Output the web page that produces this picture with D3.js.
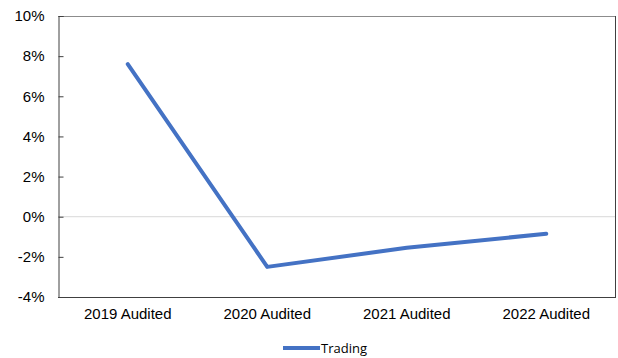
<!DOCTYPE html>
<html>
<head>
<meta charset="utf-8">
<script src="https://cdn.jsdelivr.net/npm/d3@7"></script>
<style>
  html, body { margin: 0; padding: 0; background: #fff; }
  svg { display: block; }
</style>
</head>
<body>
<svg id="chart" width="618" height="358"></svg>
<script>
// Trading margin by year
const categories = ["2019 Audited", "2020 Audited", "2021 Audited", "2022 Audited"];
const trading = [7.6, -2.5, -1.55, -0.85];
const yTicks = [-4, -2, 0, 2, 4, 6, 8, 10];
const seriesName = "Trading";

const svg = d3.select("#chart");
const margin = { left: 58, top: 16, right: 2, bottom: 61 };
const W = 618, H = 358;
const x0 = margin.left, x1 = W - margin.right;
const y0 = margin.top, y1 = H - margin.bottom;

const x = d3.scaleBand().domain(categories).range([x0, x1]);
const y = d3.scaleLinear().domain([-4, 10]).range([y1, y0]);

const font = "'Liberation Sans', Arial, sans-serif";

// zero gridline
svg.append("line")
  .attr("x1", x0).attr("x2", x1)
  .attr("y1", y(0)).attr("y2", y(0))
  .attr("stroke", "#d9d9d9").attr("stroke-width", 1);

// plot frame
svg.append("line").attr("x1", x0).attr("x2", x1).attr("y1", y0 + 0.5).attr("y2", y0 + 0.5)
  .attr("stroke", "#8c8c8c").attr("stroke-width", 1);
svg.append("line").attr("x1", x1 - 0.5).attr("x2", x1 - 0.5).attr("y1", y0).attr("y2", y1)
  .attr("stroke", "#404040").attr("stroke-width", 1);
svg.append("line").attr("x1", x0).attr("x2", x1).attr("y1", y1 + 0.5).attr("y2", y1 + 0.5)
  .attr("stroke", "#404040").attr("stroke-width", 1);

// y axis with inward ticks
const yAxis = d3.axisLeft(y).tickValues(yTicks).tickSize(-5).tickPadding(14)
  .tickFormat(d => d + "%");
const gy = svg.append("g").attr("transform", `translate(${x0 + 0.5},0)`).call(yAxis);
gy.select(".domain").attr("stroke", "#404040");
gy.selectAll(".tick line").attr("stroke", "#404040");
gy.selectAll(".tick text")
  .attr("font-family", font).attr("font-size", 15).attr("fill", "#000");

// x axis labels
const xAxis = d3.axisBottom(x).tickSize(0).tickPadding(11);
const gx = svg.append("g").attr("transform", `translate(0,${y1})`).call(xAxis);
gx.select(".domain").remove();
gx.selectAll(".tick text")
  .attr("font-family", font).attr("font-size", 15).attr("fill", "#000");

// series line
const line = d3.line()
  .x((d, i) => x(categories[i]) + x.bandwidth() / 2)
  .y(d => y(d));
svg.append("path")
  .datum(trading)
  .attr("d", line)
  .attr("fill", "none")
  .attr("stroke", "#4472c4")
  .attr("stroke-width", 4)
  .attr("stroke-linejoin", "round")
  .attr("stroke-linecap", "round");

// legend
const lg = svg.append("g").attr("transform", "translate(283,348)");
lg.append("line").attr("x1", 0).attr("x2", 37).attr("y1", 0).attr("y2", 0)
  .attr("stroke", "#4472c4").attr("stroke-width", 4);
lg.append("text").attr("x", 38).attr("y", 5)
  .attr("font-family", "'Open Sans', 'Noto Sans', sans-serif").attr("font-size", 13)
  .attr("fill", "#000").text(seriesName);
</script>
</body>
</html>
